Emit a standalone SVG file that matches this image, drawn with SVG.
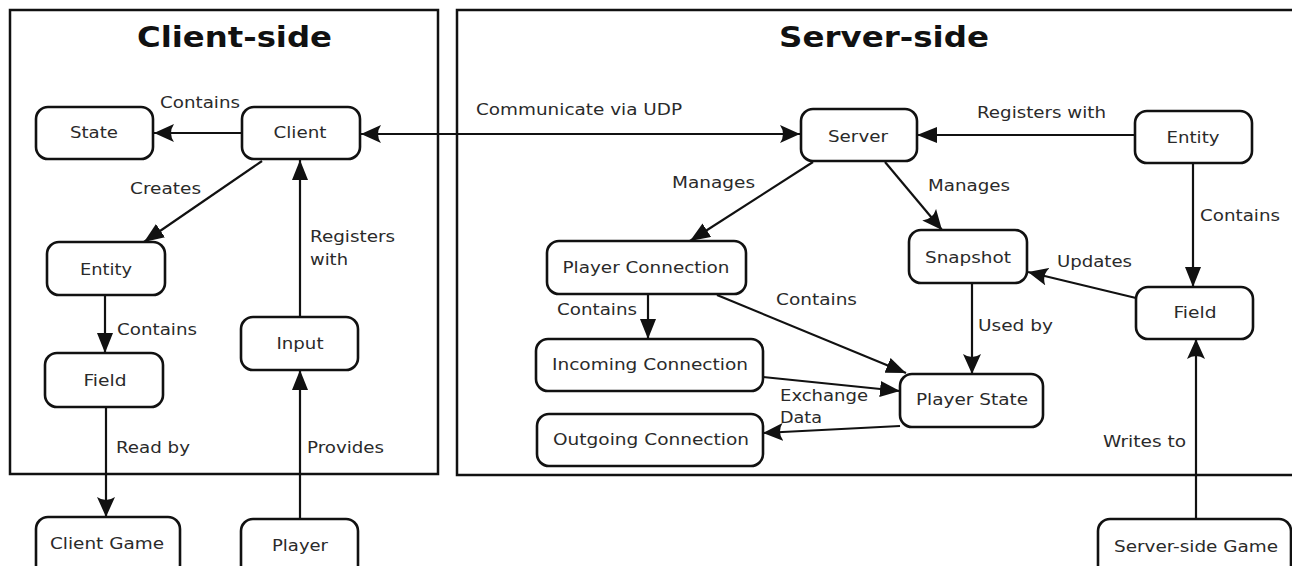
<svg xmlns="http://www.w3.org/2000/svg" width="1292" height="566" viewBox="0 0 1292 566">
  <defs>
    <style>
      .frame { fill: none; stroke: #111; stroke-width: 2.5; }
      .node rect { fill: #fff; stroke: #111; stroke-width: 2.6; }
      .node text, .lbl { font-family: "DejaVu Sans", "Liberation Sans", sans-serif; font-size: 16px; fill: #2a2a2a; }
      .node text { text-anchor: middle; }
      .title { font-family: "DejaVu Sans", "Liberation Sans", sans-serif; font-size: 28px; font-weight: bold; fill: #111; }
      .edge { fill: none; stroke: #111; stroke-width: 2.2; }
      .tri { marker-end: url(#tri); }
      .stl { marker-end: url(#stealth); }
    </style>
    <!-- solid triangular arrowhead -->
    <marker id="tri" markerUnits="userSpaceOnUse" markerWidth="20" markerHeight="16" refX="20" refY="8" orient="auto">
      <path d="M0,0 L20,8 L0,16 Z" fill="#111"/>
    </marker>
    <!-- swept-back arrowhead -->
    <marker id="stealth" markerUnits="userSpaceOnUse" markerWidth="20" markerHeight="18" refX="20" refY="9" orient="auto-start-reverse">
      <path d="M0,0 L20,9 L0,18 Q6,9 0,0 Z" fill="#111"/>
    </marker>
  </defs>

  <rect width="1292" height="566" fill="#fff"/>

  <!-- side frames -->
  <g id="client-side">
    <rect class="frame" x="10" y="10" width="428" height="464"/>
    <text class="title" x="137" y="47" textLength="195" lengthAdjust="spacingAndGlyphs">Client-side</text>
  </g>
  <g id="server-side">
    <rect class="frame" x="457" y="10" width="850" height="465"/>
    <text class="title" x="779" y="47" textLength="210" lengthAdjust="spacingAndGlyphs">Server-side</text>
  </g>

  <!-- connectors -->
  <g id="connectors">
    <line class="edge stl" x1="242" y1="133" x2="154" y2="133"/>
    <line class="edge stl" x1="361" y1="134" x2="800" y2="134" marker-start="url(#stealth)"/>
    <line class="edge tri" x1="262" y1="161" x2="144" y2="242"/>
    <line class="edge tri" x1="300" y1="317" x2="300" y2="160"/>
    <line class="edge tri" x1="105" y1="295" x2="105" y2="353"/>
    <line class="edge stl" x1="106" y1="407" x2="106" y2="517"/>
    <line class="edge tri" x1="300" y1="519" x2="300" y2="370"/>

    <line class="edge tri" x1="813" y1="162" x2="690" y2="241"/>
    <line class="edge stl" x1="885" y1="162" x2="942" y2="230"/>
    <line class="edge tri" x1="1135" y1="135" x2="917" y2="135"/>
    <line class="edge tri" x1="1193" y1="163" x2="1193" y2="287"/>
    <line class="edge stl" x1="1136" y1="298" x2="1028" y2="272"/>
    <line class="edge stl" x1="972" y1="283" x2="972" y2="374"/>
    <line class="edge stl" x1="1196" y1="519" x2="1196" y2="339"/>
    <line class="edge tri" x1="648" y1="294" x2="648" y2="339"/>
    <line class="edge tri" x1="717" y1="295" x2="906" y2="373"/>
    <line class="edge tri" x1="763" y1="377" x2="900" y2="391"/>
    <line class="edge stl" x1="900" y1="426" x2="763" y2="433"/>
  </g>

  <!-- connector labels -->
  <g id="labels">
    <text class="lbl" x="160" y="108" textLength="80" lengthAdjust="spacingAndGlyphs">Contains</text>
    <text class="lbl" x="476" y="115" textLength="206" lengthAdjust="spacingAndGlyphs">Communicate via UDP</text>
    <text class="lbl" x="130" y="194" textLength="71" lengthAdjust="spacingAndGlyphs">Creates</text>
    <text class="lbl" x="310" y="242" textLength="85" lengthAdjust="spacingAndGlyphs">Registers</text>
    <text class="lbl" x="310" y="265" textLength="38" lengthAdjust="spacingAndGlyphs">with</text>
    <text class="lbl" x="117" y="335" textLength="80" lengthAdjust="spacingAndGlyphs">Contains</text>
    <text class="lbl" x="116" y="453" textLength="74" lengthAdjust="spacingAndGlyphs">Read by</text>
    <text class="lbl" x="307" y="453" textLength="77" lengthAdjust="spacingAndGlyphs">Provides</text>

    <text class="lbl" x="672" y="188" textLength="83" lengthAdjust="spacingAndGlyphs">Manages</text>
    <text class="lbl" x="928" y="191" textLength="82" lengthAdjust="spacingAndGlyphs">Manages</text>
    <text class="lbl" x="977" y="118" textLength="129" lengthAdjust="spacingAndGlyphs">Registers with</text>
    <text class="lbl" x="1200" y="221" textLength="80" lengthAdjust="spacingAndGlyphs">Contains</text>
    <text class="lbl" x="1057" y="267" textLength="75" lengthAdjust="spacingAndGlyphs">Updates</text>
    <text class="lbl" x="978" y="331" textLength="75" lengthAdjust="spacingAndGlyphs">Used by</text>
    <text class="lbl" x="1103" y="447" textLength="83" lengthAdjust="spacingAndGlyphs">Writes to</text>
    <text class="lbl" x="557" y="315" textLength="80" lengthAdjust="spacingAndGlyphs">Contains</text>
    <text class="lbl" x="776" y="305" textLength="81" lengthAdjust="spacingAndGlyphs">Contains</text>
    <text class="lbl" x="780" y="401" textLength="88" lengthAdjust="spacingAndGlyphs">Exchange</text>
    <text class="lbl" x="780" y="423" textLength="42" lengthAdjust="spacingAndGlyphs">Data</text>
  </g>

  <!-- client-side nodes -->
  <g id="state" class="node">
    <rect x="36" y="107" width="117" height="52" rx="12"/>
    <text x="94" y="138" textLength="48" lengthAdjust="spacingAndGlyphs">State</text>
  </g>
  <g id="client" class="node">
    <rect x="242" y="107" width="118" height="52" rx="12"/>
    <text x="300" y="138" textLength="53" lengthAdjust="spacingAndGlyphs">Client</text>
  </g>
  <g id="client-entity" class="node">
    <rect x="47" y="242" width="118" height="53" rx="12"/>
    <text x="106" y="275" textLength="52" lengthAdjust="spacingAndGlyphs">Entity</text>
  </g>
  <g id="client-field" class="node">
    <rect x="45" y="353" width="118" height="54" rx="12"/>
    <text x="105" y="386" textLength="43" lengthAdjust="spacingAndGlyphs">Field</text>
  </g>
  <g id="input" class="node">
    <rect x="241" y="317" width="117" height="53" rx="12"/>
    <text x="300" y="349" textLength="47" lengthAdjust="spacingAndGlyphs">Input</text>
  </g>
  <g id="client-game" class="node">
    <rect x="36" y="517" width="144" height="60" rx="12"/>
    <text x="107" y="549" textLength="114" lengthAdjust="spacingAndGlyphs">Client Game</text>
  </g>
  <g id="player" class="node">
    <rect x="241" y="519" width="117" height="60" rx="12"/>
    <text x="300" y="551" textLength="56" lengthAdjust="spacingAndGlyphs">Player</text>
  </g>

  <!-- server-side nodes -->
  <g id="server" class="node">
    <rect x="801" y="109" width="116" height="52" rx="12"/>
    <text x="858" y="142" textLength="60" lengthAdjust="spacingAndGlyphs">Server</text>
  </g>
  <g id="server-entity" class="node">
    <rect x="1135" y="111" width="117" height="52" rx="12"/>
    <text x="1193" y="143" textLength="53" lengthAdjust="spacingAndGlyphs">Entity</text>
  </g>
  <g id="player-connection" class="node">
    <rect x="547" y="241" width="199" height="53" rx="12"/>
    <text x="646" y="273" textLength="167" lengthAdjust="spacingAndGlyphs">Player Connection</text>
  </g>
  <g id="snapshot" class="node">
    <rect x="909" y="230" width="118" height="53" rx="12"/>
    <text x="968" y="263" textLength="86" lengthAdjust="spacingAndGlyphs">Snapshot</text>
  </g>
  <g id="server-field" class="node">
    <rect x="1136" y="287" width="117" height="52" rx="12"/>
    <text x="1195" y="318" textLength="43" lengthAdjust="spacingAndGlyphs">Field</text>
  </g>
  <g id="incoming-connection" class="node">
    <rect x="536" y="339" width="227" height="52" rx="12"/>
    <text x="650" y="370" textLength="196" lengthAdjust="spacingAndGlyphs">Incoming Connection</text>
  </g>
  <g id="outgoing-connection" class="node">
    <rect x="537" y="414" width="226" height="52" rx="12"/>
    <text x="651" y="445" textLength="196" lengthAdjust="spacingAndGlyphs">Outgoing Connection</text>
  </g>
  <g id="player-state" class="node">
    <rect x="900" y="374" width="143" height="53" rx="12"/>
    <text x="972" y="405" textLength="112" lengthAdjust="spacingAndGlyphs">Player State</text>
  </g>
  <g id="server-side-game" class="node">
    <rect x="1098" y="519" width="193" height="60" rx="12"/>
    <text x="1196" y="552" textLength="164" lengthAdjust="spacingAndGlyphs">Server-side Game</text>
  </g>
</svg>
